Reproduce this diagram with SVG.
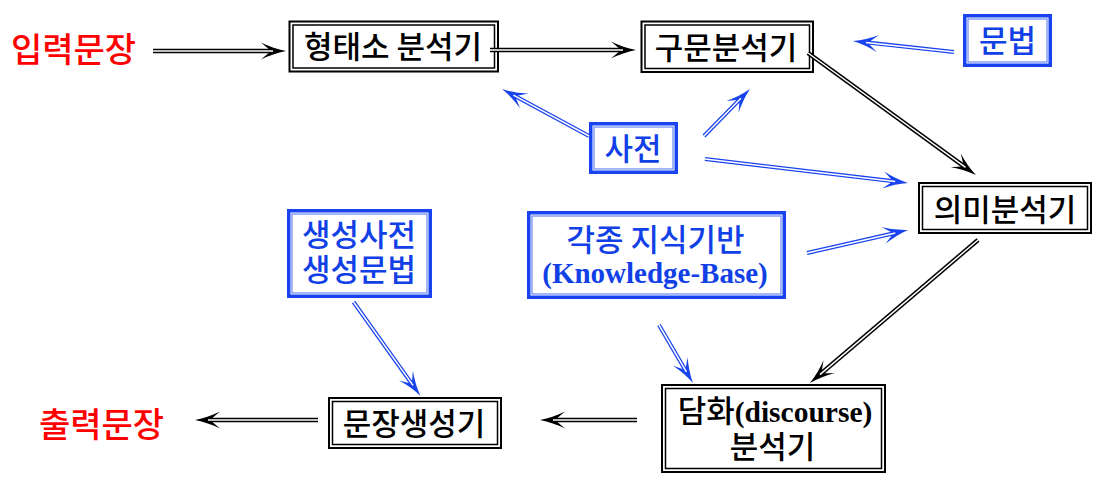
<svg xmlns="http://www.w3.org/2000/svg" width="1105" height="488" viewBox="0 0 1105 488">
<style>
.bg{fill:#fff}
.ko{fill:#fff;stroke:#000;stroke-width:2}
.ki{fill:none;stroke:#000;stroke-width:1.5}
.bo{fill:#fff;stroke:#1843ee;stroke-width:3.5}
.bi{fill:none;stroke:#5a7cf4;stroke-width:1.1}
.t{font-family:"Noto Sans CJK KR","Liberation Sans",sans-serif;font-size:31px;font-weight:500;text-anchor:middle}
.tk{fill:#000}
.tb{fill:#1040e6}
.tr{fill:#ff0000;font-size:34px}
.lat{font-family:"Liberation Serif","Times New Roman",serif;font-weight:bold}
.ok{fill:none;stroke:#000;stroke-width:4.5;marker-end:url(#hk)}
.ob{fill:none;stroke:#1843ee;stroke-width:4;marker-end:url(#hb)}
.in{fill:none;stroke:#fff;stroke-width:1.5}
</style>
<defs>
<marker id="hk" markerUnits="userSpaceOnUse" orient="auto" overflow="visible" markerWidth="1" markerHeight="1" refX="0" refY="0">
<path d="M10,0 Q-3,-2.5 -15,-8.5 L-5,0 L-15,8.5 Q-3,2.5 10,0 Z" fill="#000"/>
</marker>
<marker id="hb" markerUnits="userSpaceOnUse" orient="auto" overflow="visible" markerWidth="1" markerHeight="1" refX="0" refY="0">
<path d="M10,0 Q-3,-2.5 -15,-8.5 L-5,0 L-15,8.5 Q-3,2.5 10,0 Z" fill="#1843ee"/>
</marker>
</defs>
<rect class="bg" x="0" y="0" width="1105" height="488"/>

<g id="input"><text class="t tr" x="73.5" y="62">입력문장</text></g>
<g id="output"><text class="t tr" x="101.5" y="437">출력문장</text></g>

<g id="morph">
<rect class="ko" x="289.5" y="21.5" width="208.5" height="50"/>
<rect class="ki" x="293" y="25" width="201.5" height="43"/>
<text class="t tk" x="393" y="58">형태소 분석기</text>
</g>
<g id="syntax">
<rect class="ko" x="641.5" y="21.5" width="171.5" height="50.5"/>
<rect class="ki" x="645" y="25" width="164.5" height="43.5"/>
<text class="t tk" x="726" y="58.5">구문분석기</text>
</g>
<g id="grammar">
<rect class="bo" x="964.75" y="15.75" width="85.5" height="49.5"/>
<rect class="bi" x="968" y="19" width="79" height="43"/>
<text class="t tb" x="1007.5" y="51.5">문법</text>
</g>
<g id="dict">
<rect class="bo" x="590.75" y="123.75" width="85.5" height="48.5"/>
<rect class="bi" x="594" y="127" width="79" height="42"/>
<text class="t tb" x="633" y="159.5">사전</text>
</g>
<g id="semantic">
<rect class="ko" x="919" y="183" width="172" height="50"/>
<rect class="ki" x="922.5" y="186.5" width="165" height="43"/>
<text class="t tk" x="1005" y="220.5">의미분석기</text>
</g>
<g id="kb">
<rect class="bo" x="528.75" y="212.75" width="255.5" height="84.5"/>
<rect class="bi" x="532" y="216" width="249" height="78"/>
<text class="t tb" x="655.5" y="250.5">각종 지식기반<tspan class="lat" x="655" y="283" font-size="29">(Knowledge-Base)</tspan></text>
</g>
<g id="gendict">
<rect class="bo" x="288.75" y="210.75" width="141.5" height="85.5"/>
<rect class="bi" x="292" y="214" width="135" height="79"/>
<text class="t tb" x="359" y="245.5">생성사전<tspan x="359" y="280.5">생성문법</tspan></text>
</g>
<g id="discourse">
<rect class="ko" x="662" y="385" width="223" height="87"/>
<rect class="ki" x="665.5" y="388.5" width="216" height="80"/>
<text class="t tk" x="775" y="422">담화<tspan class="lat" font-size="29.5">(discourse)</tspan><tspan x="772.5" y="457.5">분석기</tspan></text>
</g>
<g id="generator">
<rect class="ko" x="329" y="398" width="172" height="50"/>
<rect class="ki" x="332.5" y="401.5" width="165" height="43"/>
<text class="t tk" x="414" y="434.5">문장생성기</text>
</g>

<g id="connectors">
<path class="ok" d="M153,51 L276,51"/><path class="in" d="M153,51 L273,51"/>
<path class="ok" d="M490,50 L626,50"/><path class="in" d="M490,50 L623,50"/>
<path class="ob" d="M954,52 L862.9,42.1"/><path class="in" d="M954,52 L865.9,42.4"/>
<path class="ok" d="M808,53 L967.9,169.1"/><path class="in" d="M808,53 L965.5,167.4"/>
<path class="ob" d="M589,136 L510.8,93.75"/><path class="in" d="M589,136 L513.4,95.2"/>
<path class="ob" d="M704,136 L743,96.1"/><path class="in" d="M704,136 L740.9,98.3"/>
<path class="ob" d="M705,159 L898.1,181.8"/><path class="in" d="M705,159 L895.1,181.5"/>
<path class="ob" d="M807,253 L898.3,232.2"/><path class="in" d="M807,253 L895.3,232.9"/>
<path class="ok" d="M978,240 L817.6,376.5"/><path class="in" d="M978,240 L819.9,374.6"/>
<path class="ob" d="M659,325 L687.9,374.4"/><path class="in" d="M659,325 L686.4,371.8"/>
<path class="ok" d="M637,420 L550,420"/><path class="in" d="M637,420 L553,420"/>
<path class="ok" d="M318,420 L205,420"/><path class="in" d="M318,420 L208,420"/>
<path class="ob" d="M353.5,302 L414.7,387.9"/><path class="in" d="M353.5,302 L413,385.4"/>
</g>
</svg>
